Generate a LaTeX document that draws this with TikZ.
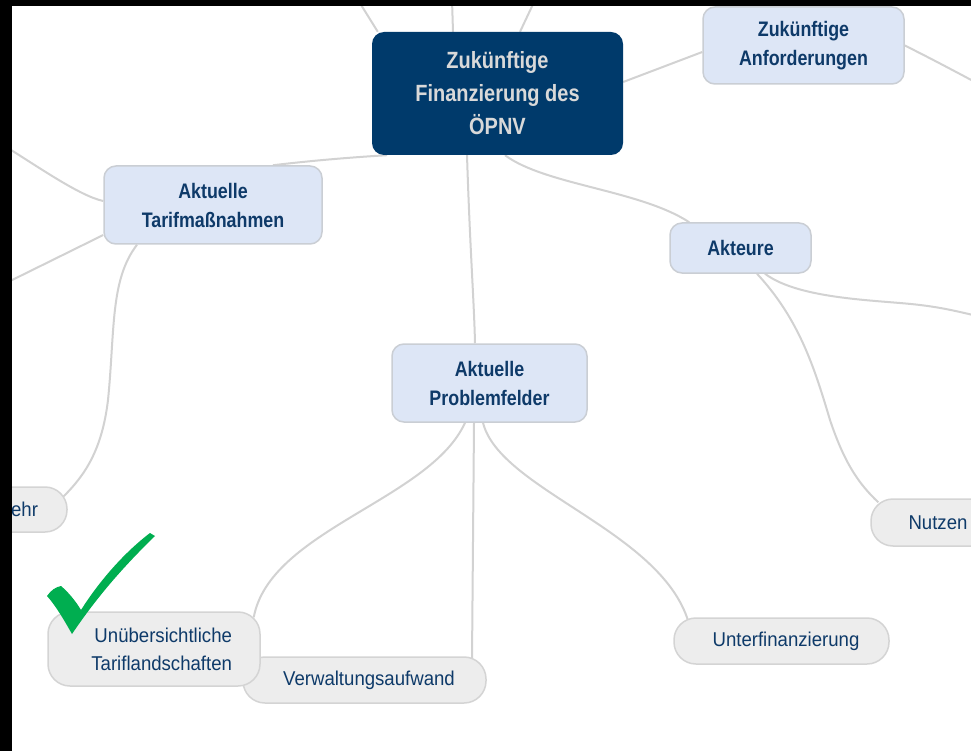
\documentclass[tikz,border=0pt]{standalone}
\usepackage{fontspec}
\setmainfont{Liberation Sans}[FakeStretch=0.93]
\newfontfamily\headfont{Liberation Sans}[FakeStretch=0.85]

\definecolor{rootfill}{RGB}{0,58,107}
\definecolor{roottext}{RGB}{217,217,217}
\definecolor{navytext}{RGB}{14,58,105}
\definecolor{topicfill}{RGB}{221,230,246}
\definecolor{topicedge}{RGB}{202,206,212}
\definecolor{leaffill}{RGB}{237,237,237}
\definecolor{leafedge}{RGB}{212,212,212}
\definecolor{linkgray}{RGB}{210,210,210}
\definecolor{checkgreen}{RGB}{0,174,80}

\pgfdeclarelayer{links}
\pgfsetlayers{links,main}

\tikzset{
  rootbox/.style={fill=rootfill, draw=none, rounded corners=12pt, inner sep=0pt,
    text=roottext, align=center, font=\headfont\bfseries\fontsize{23.5}{33}\selectfont},
  topicbox/.style={fill=topicfill, draw=topicedge, line width=1.5pt, rounded corners=12pt,
    inner sep=0pt, text=navytext, align=center, font=\headfont\bfseries\fontsize{21}{29}\selectfont},
  leafbox/.style={fill=leaffill, draw=leafedge, line width=1.5pt, rounded corners=22pt,
    inner sep=0pt, text=navytext, font=\fontsize{20}{28}\selectfont},
  link/.style={draw=linkgray, line width=2pt},
}

\begin{document}
\begin{tikzpicture}[x=1pt,y=-1pt]
\useasboundingbox (0,0) rectangle (971,751);

% central topic and main branches
\node[rootbox, minimum width=251pt, minimum height=123pt] (root) at (497.5,93.5)
  {Zukünftige\\Finanzierung des\\ÖPNV};
\node[topicbox, minimum width=201pt, minimum height=77pt] (fut) at (803.5,45.5)
  {Zukünftige\\Anforderungen};
\node[topicbox, minimum width=218pt, minimum height=78pt] (tarif) at (213,205)
  {Aktuelle\\Tarifmaßnahmen};
\node[topicbox, minimum width=141pt, minimum height=50pt] (akt) at (740.5,248)
  {Akteure};
\node[topicbox, minimum width=195pt, minimum height=78pt] (prob) at (489.5,383)
  {Aktuelle\\Problemfelder};

% leaves
\node[leafbox, minimum width=127pt, minimum height=45pt, text width=69pt, align=right] (mehr) at (3.5,509.5)
  {ehr};
\node[leafbox, minimum width=243pt, minimum height=46pt, align=center] (verw) at (364.5,680)
  {\hspace*{9pt}Verwaltungsaufwand};
\node[leafbox, minimum width=212pt, minimum height=74pt, text width=156pt, align=right] (unueb) at (154,649)
  {Unübersichtliche\\Tariflandschaften};
\node[leafbox, minimum width=215pt, minimum height=46pt, align=center] (unterf) at (781.5,641)
  {\hspace*{9pt}Unterfinanzierung};
\node[leafbox, minimum width=134pt, minimum height=47pt, align=center] (nutzen) at (938,522.5)
  {Nutzen};

% free ends of links that leave the sheet
\coordinate (offA) at (358,0);
\coordinate (offB) at (452,0);
\coordinate (offC) at (535,0);
\coordinate (offD) at (990,90);
\coordinate (offE) at (0,143);
\coordinate (offF) at (0,286);
\coordinate (offG) at (990,319);

\begin{pgfonlayer}{links}
\fill[white] (0,0) rectangle (971,751);
\draw[link] ([xshift=6pt]root.north west) -- (offA);
\draw[link] ([xshift=-44.5pt]root.north) -- (offB);
\draw[link] ([xshift=22.5pt]root.north) -- (offC);
\draw[link] ([yshift=11.5pt]root.east) -- ([yshift=-6.5pt]fut.west);
\draw[link] (fut.east) .. controls (930,58) and (960,74) .. (offD);
\draw[link] ([xshift=-110.5pt]root.south) .. controls (340,158) and (300,162) .. ([xshift=60pt]tarif.north);
\draw[link] ([xshift=-30.5pt]root.south) .. controls (470,250) and (474,300) .. ([xshift=-14.5pt]prob.north);
\draw[link] ([xshift=7.5pt]root.south) .. controls (545,185) and (640,190) .. ([xshift=20pt]akt.north west);

\draw[link] ([yshift=4pt]tarif.west) .. controls (80,196) and (40,168) .. (offE);
\draw[link] ([yshift=-30pt]tarif.west) -- (offF);
\draw[link] ([xshift=-76pt]tarif.south) .. controls (110,280) and (115,330) .. (108,400)
                                          .. controls (102,450) and (85,475) .. ([xshift=-4pt,yshift=-10pt]mehr.north east);

\draw[link] ([xshift=-24.5pt]prob.south) .. controls (430,500) and (270,530) .. ([xshift=-7pt,yshift=-6pt]unueb.north east);
\draw[link] ([xshift=-15.5pt]prob.south) -- ([xshift=107.5pt,yshift=-3pt]verw.north);
\draw[link] ([xshift=-6.5pt]prob.south) .. controls (500,490) and (660,530) .. ([xshift=15pt,yshift=-4pt]unterf.north west);

\draw[link] ([xshift=16.5pt]akt.south) .. controls (800,320) and (815,370) .. (830,420)
                                       .. controls (845,465) and (860,485) .. ([xshift=8pt,yshift=-4pt]nutzen.north west);
\draw[link] ([xshift=24.5pt]akt.south) .. controls (800,300) and (880,300) .. (920,305)
                                       .. controls (945,308) and (960,312) .. (offG);
\end{pgfonlayer}

% check mark over the first leaf
\fill[checkgreen] (47,596) .. controls (51,590) and (56,587) .. (61,586)
  .. controls (68,592) and (75,600) .. (81,610)
  .. controls (100,580) and (125,552) .. (150,533) -- (155,536)
  .. controls (120,570) and (95,600) .. (72,634)
  .. controls (64,620) and (56,606) .. (47,596) -- cycle;

% dark frame strips along the top and left edge
\fill[black] (0,0) rectangle (971,6);
\fill[black] (0,0) rectangle (12,751);
\end{tikzpicture}
\end{document}
